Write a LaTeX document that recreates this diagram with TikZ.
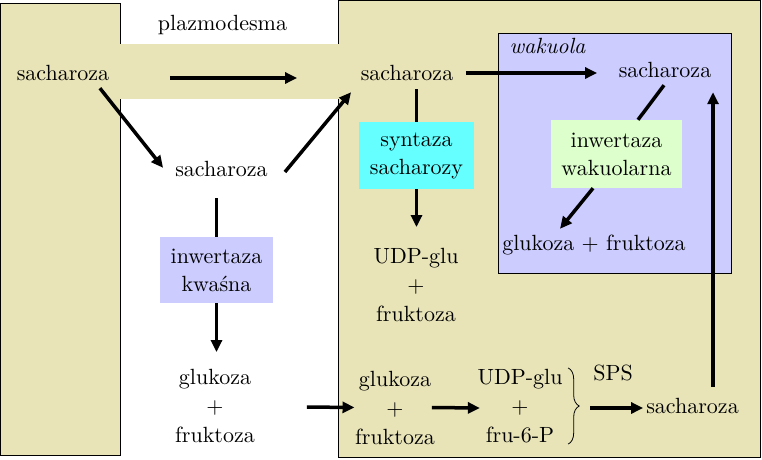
\documentclass[tikz,border=0pt]{standalone}
\usepackage{fontspec}
\setmainfont{lmroman10-regular.otf}[ItalicFont=lmroman10-italic.otf]
\usetikzlibrary{arrows.meta,calc,decorations.pathreplacing}
\definecolor{celltan}{RGB}{232,228,184}
\definecolor{lav}{RGB}{204,204,255}
\definecolor{cyanbox}{RGB}{102,255,255}
\definecolor{greenbox}{RGB}{221,255,204}
\begin{document}
\begin{tikzpicture}[x=1pt,y=-1pt,
  cell/.style={fill=celltan, draw=black, line width=0.8pt},
  txt/.style={inner sep=1pt, text height=15pt, text depth=5pt, font=\fontsize{22}{29}\selectfont},
  mtxt/.style={inner sep=1pt, align=center, font=\fontsize{22}{29}\selectfont},
  enz/.style={inner sep=0pt, align=center, font=\fontsize{22}{28}\selectfont},
  arr/.style={line width=3.5pt, -{Triangle[length=12pt,width=11pt]}},
  ln/.style={line width=3.5pt}]
\useasboundingbox (0,0) rectangle (762,459);
% cells
\draw[cell] (0.5,3.5) rectangle (120,455);
\draw[cell] (338.5,0.5) rectangle (760,457);
\fill[celltan] (119,44) rectangle (340,99);
\draw[fill=lav, line width=0.8pt] (498,33) rectangle (731,273);
% texts
\node[txt] (plaz) at (222.5,25) {plazmodesma};
\node[txt] (wak) at (547.5,48) {\itshape wakuola};
\node[txt] (sL) at (63,75) {sacharoza};
\node[txt] (sR) at (407,75) {sacharoza};
\node[txt] (sV) at (665,72) {sacharoza};
\node[txt] (sM) at (221.5,171) {sacharoza};
\node[txt] (sS) at (692.5,408) {sacharoza};
\node[txt] (sps) at (613,375) {SPS};
\node[txt] (gfV) at (594,245) {glukoza + fruktoza};
\node[mtxt] (udp1) at (416,285) {UDP-glu\\+\\fruktoza};
\node[mtxt] (gf1) at (215,406) {glukoza\\+\\fruktoza};
\node[mtxt] (gf2) at (395,407.5) {glukoza\\+\\fruktoza};
\node[mtxt] (udp2) at (520,406) {UDP-glu\\+\\fru-6-P};
\node[enz, fill=lav, minimum width=113pt, minimum height=66pt] (inw) at (216.5,270) {inwertaza\\kwaśna};
\node[enz, fill=cyanbox, minimum width=115pt, minimum height=67pt] (syn) at (416.5,155.5) {syntaza\\sacharozy};
\node[enz, fill=greenbox, minimum width=131pt, minimum height=68pt] (winw) at (616.5,154) {inwertaza\\wakuolarna};
% brace
\draw[line width=0.8pt, decorate, decoration={brace, amplitude=11pt}]
  ($(udp2.north east)+(4.5,0)$) -- ($(udp2.south east)+(4.5,0)$);
\coordinate (btip) at ($(udp2.east)+(26.5,2)$);
% connectors
\draw[arr] ($(sL.east)+(59.5,3)$) -- ($(sR.west)+(-62.5,3)$);
\draw[arr] ($(sL.south east)+(-10.5,2)$) -- ($(sM.north west)+(-11,8)$);
\draw[arr] ($(sM.east)+(16,1)$) -- ($(sR.south west)+(-8.5,6)$);
\draw[arr] ($(sR.east)+(11.5,-2)$) -- ($(sV.west)+(-20.5,1)$);
\draw[ln] ($(syn.north |- sR.south)+(0,3)$) -- (syn.north);
\draw[arr] (syn.south) -- ($(syn.south |- udp1.north)+(0,-20)$);
\draw[ln] ($(inw.north |- sM.south)+(0,16)$) -- (inw.north);
\draw[arr] (inw.south) -- ($(inw.south |- gf1.north)+(0,-16)$);
\draw[arr] ($(gf1.east)+(51,1)$) -- ($(gf2.west)+(0.5,0)$);
\draw[arr] ($(gf2.east)+(-4,0)$) -- ($(udp2.west)+(3.5,2)$);
\draw[arr] (btip) -- ($(sS.west)+(-2,0)$);
\draw[arr] ($(sS.north)+(20.5,-10)$) -- ($(sS.north |- sV.south)+(20.5,9)$);
\draw[ln] ($(sV.south)+(-1,2)$) -- ($(winw.north)+(21.5,0)$);
\draw[arr] ($(winw.south)+(-23.5,0)$) -- ($(gfV.north)+(-34,-5)$);
\end{tikzpicture}
\end{document}
